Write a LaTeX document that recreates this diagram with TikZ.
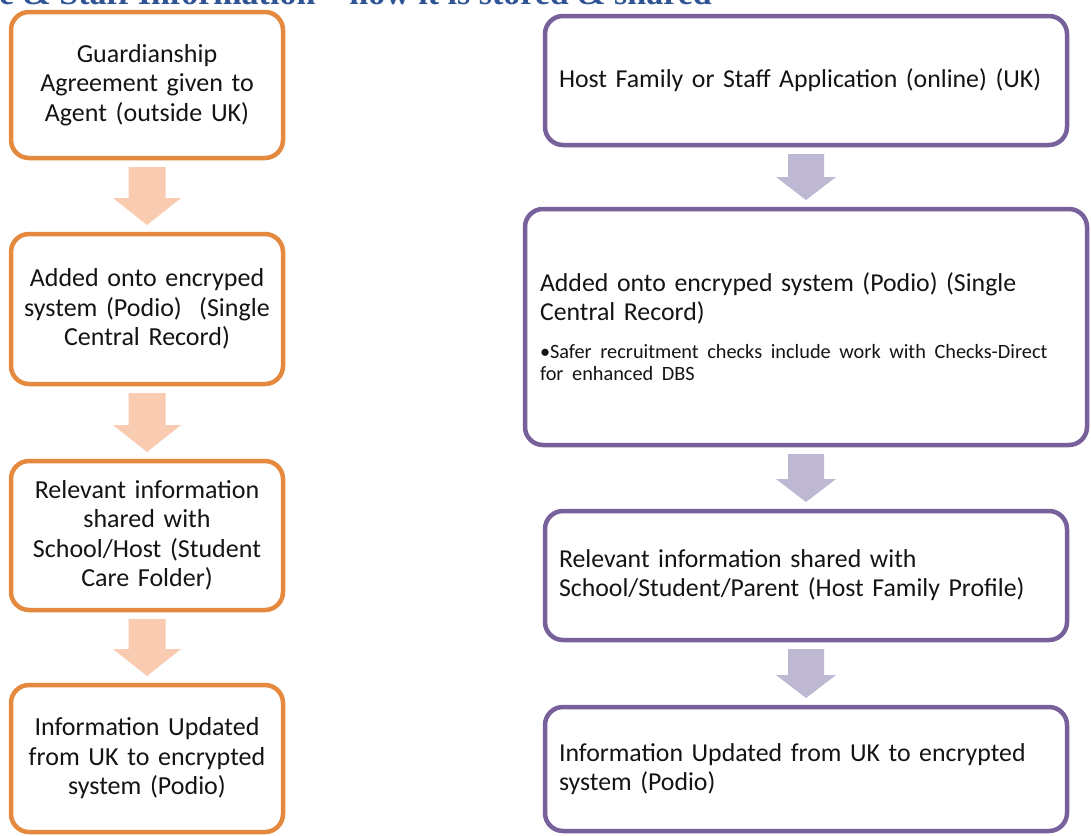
\documentclass[tikz,border=0pt]{standalone}
\usepackage{fontspec}
\setmainfont{Carlito}
\newfontfamily\titlefont{Liberation Serif}
\usetikzlibrary{calc}
\definecolor{orgline}{RGB}{228,137,62}
\definecolor{orgfill}{RGB}{249,203,176}
\definecolor{purline}{RGB}{120,96,155}
\definecolor{purfill}{RGB}{191,184,210}
\definecolor{titleblue}{RGB}{47,84,150}
\definecolor{txt}{RGB}{20,20,20}
\tikzset{
  lbox/.style={draw=orgline, line width=4.5pt, rounded corners=18pt, fill=white,
    outer sep=0pt, inner sep=0pt, minimum width=272pt, text width=262pt, align=center,
    text=txt, font=\fontsize{26}{29.5}\selectfont},
  rbox/.style={draw=purline, line width=4.5pt, rounded corners=18pt, fill=white,
    outer sep=0pt, inner xsep=14pt, inner ysep=0pt, align=left,
    text=txt, font=\fontsize{25.8}{29}\selectfont},
  larr/.style={fill=orgfill},
  rarr/.style={fill=purfill}
}
\newcommand{\blockarr}[6]{%
  \fill[#3] ($(#1.south)+(-#4,9)$) -- ($(#1.south)+(#4,9)$) -- ($(#2.north)+(#4,-9-#6)$)
    -- ($(#2.north)+(#5,-9-#6)$) -- ($(#2.north)+(0,-9)$) -- ($(#2.north)+(-#5,-9-#6)$)
    -- ($(#2.north)+(-#4,-9-#6)$) -- cycle;}
\begin{document}
\begin{tikzpicture}[x=1pt,y=-1pt]
\useasboundingbox (0,0) rectangle (1091,835);
\clip (0,0) rectangle (1091,835);
\fill[white] (0,0) rectangle (1091,835);
\node[anchor=base east, text=titleblue, font=\titlefont\bfseries\fontsize{34}{36}\selectfont, inner sep=0pt] (title) at (712,5) {e \& Staff Information – how it is stored \& shared};
% left column
\node[lbox, minimum height=146pt] (b1) at (147,85) {Guardianship\\Agreement given to\\Agent (outside UK)};
\node[lbox, minimum height=150pt] (b2) at (147,309) {Added onto encryped\\system (Podio)\ \ (Single\\Central Record)};
\node[lbox, minimum height=149pt] (b3) at (147,535.5) {Relevant information\\shared with\\School/Host (Student\\Care Folder)};
\node[lbox, minimum height=147pt] (b4) at (147,758.5) {Information Updated\\from UK to encrypted\\system (Podio)};
\blockarr{b1}{b2}{larr}{18.5}{34}{27}
\blockarr{b2}{b3}{larr}{18.5}{34}{27}
\blockarr{b3}{b4}{larr}{18.5}{34}{27}
% right column
\node[rbox, minimum height=129pt, text width=494pt] (r1) at (806,80.5) {Host Family or Staff Application (online) (UK)};
\node[rbox, minimum height=236pt, text width=532pt, inner xsep=15pt] (r2) at (806,327) {Added onto encryped system (Podio) (Single\\Central Record)\par\vspace{16pt}%
{\fontsize{20.3}{22}\selectfont\hangindent=10pt\hangafter=1\makebox[10pt][l]{\textbullet}Safer recruitment checks include work with Checks-Direct\\for enhanced DBS\par}};
\node[rbox, minimum height=129pt, text width=494pt] (r3) at (806,575.5) {Relevant information shared with\\School/Student/Parent (Host Family Profile)};
\node[rbox, minimum height=124pt, text width=494pt] (r4) at (806,769) {Information Updated from UK to encrypted\\system (Podio)};
\blockarr{r1}{r2}{rarr}{18}{30}{23}
\blockarr{r2}{r3}{rarr}{18}{30}{23}
\blockarr{r3}{r4}{rarr}{18}{30}{23}
\end{tikzpicture}
\end{document}
